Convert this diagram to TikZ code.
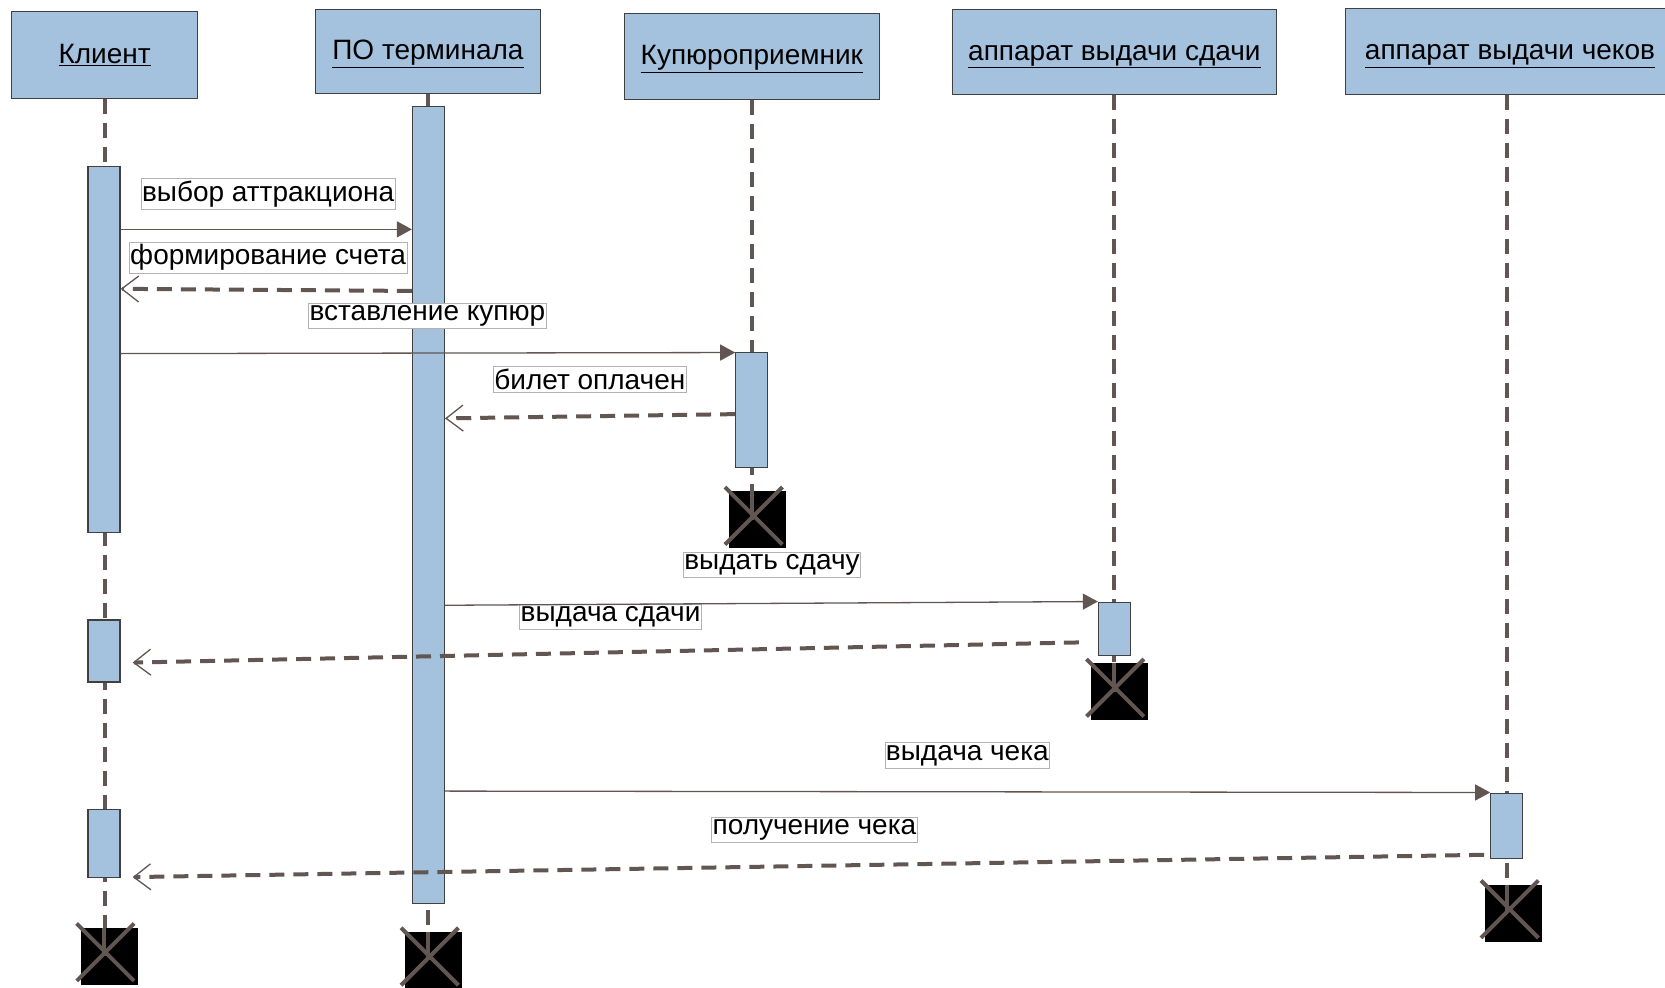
\documentclass[tikz,border=0pt]{standalone}
\usepackage{fontspec}
\setmainfont{Liberation Sans}
\usetikzlibrary{arrows.meta}
\definecolor{boxblue}{RGB}{164,194,222}
\definecolor{lbrown}{RGB}{98,86,82}
\definecolor{bord}{RGB}{64,64,64}
\pgfdeclarelayer{bg}
\pgfsetlayers{bg,main}
\tikzset{
 hdr/.style={draw=bord, line width=1.2pt, fill=boxblue, inner sep=0pt, text height=21pt, text depth=5pt, font=\fontsize{28}{32}\selectfont},
 act/.style={draw=bord, line width=1.2pt, fill=boxblue, minimum width=32pt, inner sep=0pt},
 xbox/.style={fill=black, minimum width=57pt, minimum height=57pt, inner sep=0pt},
 xline/.style={draw=lbrown, line width=4pt},
 life/.style={draw=lbrown, line width=4pt, dash pattern=on 15pt off 9pt},
 msg/.style={draw=lbrown, line width=1.3pt, -{Triangle[length=15pt,width=16pt]}},
 ret/.style={draw=lbrown, line width=4pt, dash pattern=on 15pt off 9pt, -{Straight Barb[length=17pt,width=26pt,line width=1.3pt]}},
 lbl/.style={draw=black!30, line width=0.8pt, fill=white, inner xsep=1pt, inner ysep=2.5pt, font=\fontsize{28}{32}\selectfont},
}
\begin{document}
\begin{tikzpicture}[x=1.0619pt,y=-1.0619pt]
\useasboundingbox (0,0) rectangle (1568,930);
% headers
\node[hdr, minimum width=186pt, minimum height=87pt] (h1) at (98.5,52) {\underline{Клиент}};
\node[hdr, minimum width=225pt, minimum height=84pt] (h2) at (403,48.5) {\underline{ПО терминала}};
\node[hdr, minimum width=255pt, minimum height=86pt] (h3) at (708,53.5) {\underline{Купюроприемник}};
\node[hdr, minimum width=324pt, minimum height=85pt] (h4) at (1049.5,49) {\underline{аппарат выдачи сдачи}};
\node[hdr, minimum width=329pt, minimum height=86pt] (h5) at (1422,48.5) {\underline{аппарат выдачи чеков}};
% activations
\node[act, minimum height=366pt] (c1) at (98,329.5) {};
\node[act, minimum height=62pt] (c2) at (98,613) {};
\node[act, minimum height=68pt] (c3) at (98,794) {};
\node[act, minimum height=797pt] (t) at (403.5,475.5) {};
\node[act, minimum height=115pt] (k) at (708,386) {};
\node[act, minimum height=53pt] (s) at (1049.5,592) {};
\node[act, minimum height=65pt] (ch) at (1419,777.5) {};
% destruction boxes
\node[xbox] (xc) at (103,900.5) {};
\node[xbox] (xt) at (408.5,904.5) {};
\node[xbox] (xk) at (713.5,489.5) {};
\node[xbox] (xs) at (1054,651.5) {};
\node[xbox] (xch) at (1425.5,860) {};
% lifelines
\begin{pgfonlayer}{bg}
\draw[life] (h1.south) -- (h1.south |- xc.north);
\draw[life] (h2.south) -- (h2.south |- xt.north);
\draw[life] (h3.south) -- (h3.south |- xk.north);
\draw[life] (h4.south) -- (h4.south |- xs.north);
\draw[life] (h5.south -| ch.center) -- (ch.center |- xch.north);
\end{pgfonlayer}
% crosses
\foreach \n/\lx in {xc/98, xt/403.5, xk/708, xs/1049.5, xch/1419}{
  \draw[xline] ([shift={(-4pt,4pt)}]\n.north west) -- ([shift={(-4pt,4pt)}]\n.south east);
  \draw[xline] ([shift={(-4pt,4pt)}]\n.north east) -- ([shift={(-4pt,4pt)}]\n.south west);
  \draw[xline] (\n.north -| \lx,0) -- (\n.center -| \lx,0);
}
% labels
\node[lbl] (l1) at (252.5,182.5) {выбор аттракциона};
\node[lbl] (l2) at (252.5,242.5) {формирование счета};
\node[lbl] (l3) at (402.5,297.5) {вставление купюр};
\node[lbl] (l4) at (555.5,357.5) {билет оплачен};
\node[lbl] (l5) at (727,532) {выдать сдачу};
\node[lbl] (l6) at (575,581) {выдача сдачи};
\node[lbl] (l7) at (911,711.5) {выдача чека};
\node[lbl] (l8) at (767,781.5) {получение чека};
% messages
\draw[msg] (c1.east |- 0,216) -- (t.west |- 0,216);
\draw[ret] (t.west |- 0,274) -- (c1.east |- 0,272);
\draw[msg] (c1.east |- 0,333) -- (k.west |- 0,332);
\draw[ret] (k.west |- 0,390) -- (t.east |- 0,394);
\draw[msg] (t.east |- 0,570) -- (s.north west);
\draw[ret] ([xshift=-19pt]s.west |- 0,605) -- ([xshift=12pt]c2.east |- 0,624);
\draw[msg] (t.east |- 0,745) -- (ch.north west);
\draw[ret] ([xshift=-6pt]ch.west |- 0,805) -- ([xshift=12pt]c3.east |- 0,826);
\end{tikzpicture}
\end{document}
